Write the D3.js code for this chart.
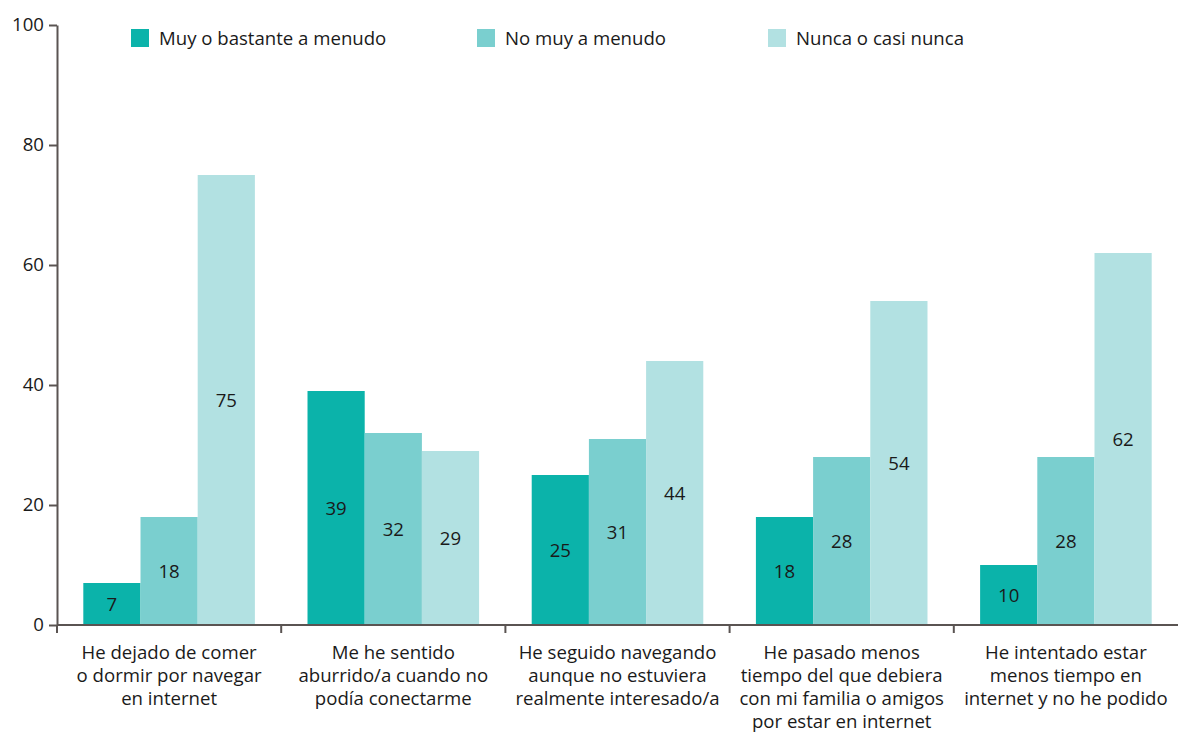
<!DOCTYPE html>
<html>
<head>
<meta charset="utf-8">
<script src="https://cdn.jsdelivr.net/npm/d3@7"></script>
<style>
  html, body { margin: 0; padding: 0; background: #fff; }
  svg { display: block; font-family: "Open Sans", "Noto Sans", sans-serif; }
</style>
</head>
<body>
<svg id="chart" width="1178" height="733"></svg>
<script>
// Categories (one group of bars per statement)
const categories = [
  "He dejado de comer|o dormir por navegar|en internet",
  "Me he sentido|aburrido/a cuando no|podía conectarme",
  "He seguido navegando|aunque no estuviera|realmente interesado/a",
  "He pasado menos|tiempo del que debiera|con mi familia o amigos|por estar en internet",
  "He intentado estar|menos tiempo en|internet y no he podido"
];
const seriesNames = ["Muy o bastante a menudo", "No muy a menudo", "Nunca o casi nunca"];
const muyBastante = [7, 39, 25, 18, 10];
const noMuy = [18, 32, 31, 28, 28];
const nunca = [75, 29, 44, 54, 62];
const yTicks = [0, 20, 40, 60, 80, 100];
const colors = ["#0bb3aa", "#7acfcf", "#b2e1e2"];

const seriesValues = [muyBastante, noMuy, nunca];
const rows = categories.map((c, i) => ({
  cat: c,
  vals: seriesNames.map((s, j) => ({ series: s, idx: j, value: seriesValues[j][i] }))
}));

const svg = d3.select("#chart");
const plotLeft = 57, plotRight = 1178, plotTop = 25, plotBottom = 625;
const fontSize = 18.6;

const x0 = d3.scaleBand().domain(categories).range([plotLeft, plotRight]).paddingInner(0).paddingOuter(0);
const x1 = d3.scaleBand().domain(seriesNames).range([0, x0.bandwidth()]).paddingInner(0).paddingOuter(0.46);
const y = d3.scaleLinear().domain([0, 100]).range([plotBottom, plotTop]);
const color = d3.scaleOrdinal().domain(seriesNames).range(colors);

// Bars
const groups = svg.append("g").selectAll("g").data(rows).join("g")
  .attr("transform", d => `translate(${x0(d.cat)},0)`);

groups.selectAll("rect").data(d => d.vals).join("rect")
  .attr("x", d => x1(d.series))
  .attr("y", d => y(d.value))
  .attr("width", x1.bandwidth())
  .attr("height", d => y(0) - y(d.value))
  .attr("fill", d => color(d.series));

// Value labels centred in each bar
groups.selectAll("text").data(d => d.vals).join("text")
  .attr("x", d => x1(d.series) + x1.bandwidth() / 2)
  .attr("y", d => y(d.value / 2))
  .attr("dy", "0.35em")
  .attr("text-anchor", "middle")
  .attr("font-size", fontSize)
  .attr("fill", "#1a1a1a")
  .text(d => d.value);

const axisColor = "#5a5452";

// Y axis
const yAxis = svg.append("g")
  .attr("transform", `translate(${plotLeft},0)`)
  .call(d3.axisLeft(y).tickValues(yTicks).tickSize(8).tickPadding(5).tickSizeOuter(0));
yAxis.select(".domain").attr("stroke", axisColor).attr("stroke-width", 2);
yAxis.selectAll(".tick line").attr("stroke", axisColor).attr("stroke-width", 2);
yAxis.selectAll(".tick text").attr("font-size", fontSize).attr("fill", "#1a1a1a")
  .attr("font-family", "\"Open Sans\", \"Noto Sans\", sans-serif");

// X axis: baseline with ticks at the group boundaries
const boundaries = categories.map(c => x0(c));
svg.append("line")
  .attr("x1", plotLeft).attr("x2", plotRight)
  .attr("y1", plotBottom).attr("y2", plotBottom)
  .attr("stroke", axisColor).attr("stroke-width", 2);
svg.append("g").selectAll("line").data(boundaries).join("line")
  .attr("x1", d => d).attr("x2", d => d)
  .attr("y1", plotBottom).attr("y2", plotBottom + 8)
  .attr("stroke", axisColor).attr("stroke-width", 2);

// Category labels (multi-line)
const catLabels = svg.append("g").selectAll("text").data(categories).join("text")
  .attr("x", d => x0(d) + x0.bandwidth() / 2)
  .attr("y", 659)
  .attr("text-anchor", "middle")
  .attr("font-size", fontSize)
  .attr("fill", "#1a1a1a");
catLabels.each(function(d) {
  const t = d3.select(this);
  d.split("|").forEach((line, i) => {
    t.append("tspan")
      .attr("x", x0(d) + x0.bandwidth() / 2)
      .attr("dy", i === 0 ? 0 : 23)
      .text(line);
  });
});

// Legend
const legendX = [131, 477, 768];
const legend = svg.append("g").selectAll("g").data(seriesNames).join("g")
  .attr("transform", (d, i) => `translate(${legendX[i]},29)`);
legend.append("rect")
  .attr("width", 18).attr("height", 18)
  .attr("fill", d => color(d));
legend.append("text")
  .attr("x", 28).attr("y", 9).attr("dy", "0.35em")
  .attr("font-size", fontSize).attr("fill", "#1a1a1a")
  .text(d => d);
</script>
</body>
</html>
